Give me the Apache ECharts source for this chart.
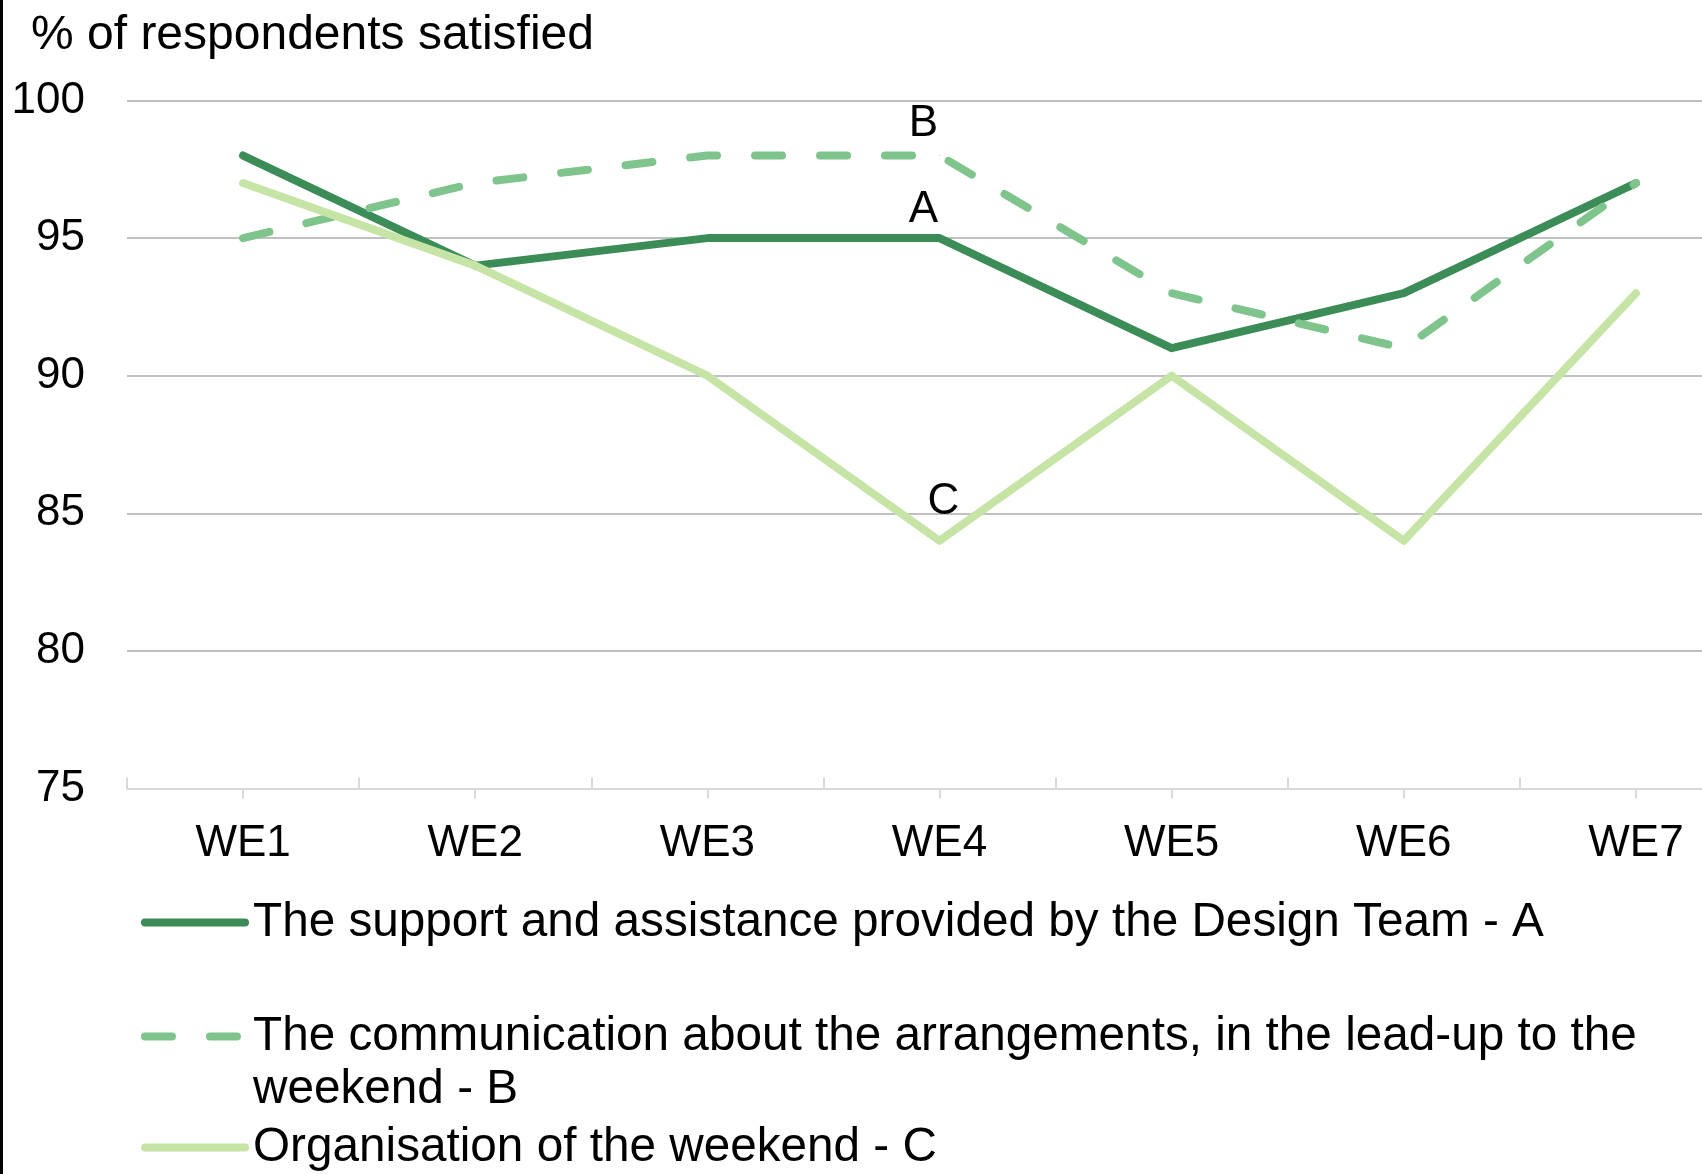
<!DOCTYPE html>
<html>
<head>
<meta charset="utf-8">
<script src="https://cdn.jsdelivr.net/npm/echarts@6/dist/echarts.min.js"></script>
<style>
  html, body { margin: 0; padding: 0; background: #ffffff; }
  #chart { width: 1702px; height: 1174px; }
</style>
</head>
<body>
<div id="chart"></div>
<script>
// Weekend satisfaction survey results
const weekends = ['WE1', 'WE2', 'WE3', 'WE4', 'WE5', 'WE6', 'WE7'];
const supportA = [98, 94, 95, 95, 91, 93, 97];
const communicationB = [95, 97, 98, 98, 93, 91, 97];
const organisationC = [97, 94, 90, 84, 90, 84, 93];

const seriesNames = [
  'The support and assistance provided by the Design Team - A',
  'The communication about the arrangements, in the lead-up to the\nweekend - B',
  'Organisation of the weekend - C'
];
const seriesTags = ['A', 'B', 'C'];
const taggedWeekend = 'WE4';

const yTicks = { min: 75, max: 100, step: 5 };
const yTitle = '% of respondents satisfied';

const FONT = '"Liberation Sans", Arial, sans-serif';
const colors = ['#3b8c57', '#7fc48c', '#c6e4a6'];
const dashB = [27, 38];

// Tag placement near the tagged point of each line
const tagStyle = [
  { distance: 6, offset: [-16, 0] },
  { distance: 9, offset: [-16, 0] },
  { distance: 16, offset: [4, 0] }
];

function withTag(values, idx) {
  const at = weekends.indexOf(taggedWeekend);
  return values.map((v, i) => i !== at ? v : {
    value: v,
    symbol: 'circle',
    symbolSize: 1,
    label: {
      show: true,
      position: 'top',
      formatter: seriesTags[idx],
      distance: tagStyle[idx].distance,
      offset: tagStyle[idx].offset,
      fontFamily: FONT,
      fontSize: 44,
      lineHeight: 44,
      color: '#000'
    }
  });
}

// One legend block per series so each can sit at its own row
const legendTops = [896, 957, 1121];
function legendBlock(i) {
  return {
    orient: 'vertical',
    left: 141,
    top: legendTops[i],
    itemWidth: 100,
    itemHeight: 14,
    padding: 0,
    data: [seriesNames[i]],
    formatter: name => name.indexOf('\n') >= 0 ? '\n' + name : name,
    itemStyle: { opacity: 0 },
    lineStyle: { width: 'inherit', type: 'inherit', cap: 'round' },
    textStyle: {
      fontFamily: FONT,
      fontSize: 47.7,
      lineHeight: 53,
      color: '#000',
      padding: [0, 0, 0, 3]
    }
  };
}

const chart = echarts.init(document.getElementById('chart'), null, { renderer: 'canvas' });

const lineBase = { cap: 'round', join: 'round', width: 8 };

chart.setOption({
  backgroundColor: '#ffffff',
  animation: false,
  title: {
    text: yTitle,
    left: 31,
    top: 12,
    padding: 0,
    textStyle: { fontFamily: FONT, fontSize: 48, fontWeight: 'normal', color: '#000' }
  },
  graphic: [{
    type: 'rect',
    left: 0,
    top: 0,
    shape: { width: 3, height: 1174 },
    style: { fill: '#000' }
  }],
  // The plot runs past the right edge of the canvas
  grid: { left: 127, top: 100.5, width: 1625, height: 688, outerBoundsMode: 'none', containLabel: false },
  legend: [legendBlock(0), legendBlock(1), legendBlock(2)],
  xAxis: [{
    type: 'category',
    data: weekends,
    boundaryGap: true,
    position: 'bottom',
    axisLine: { show: true, lineStyle: { color: '#d9d9d9', width: 2 } },
    axisTick: { show: true, inside: true, length: 11, lineStyle: { color: '#d9d9d9', width: 2 } },
    axisLabel: { fontFamily: FONT, fontSize: 44, lineHeight: 44, margin: 33, color: '#000' },
    splitLine: { show: false }
  }, {
    type: 'category',
    data: weekends,
    boundaryGap: true,
    position: 'bottom',
    axisLine: { show: false },
    axisTick: { show: true, alignWithLabel: true, inside: false, length: 10, lineStyle: { color: '#d9d9d9', width: 2 } },
    axisLabel: { show: false },
    splitLine: { show: false }
  }],
  yAxis: {
    type: 'value',
    min: yTicks.min,
    max: yTicks.max,
    interval: yTicks.step,
    axisLine: { show: false },
    axisTick: { show: false },
    axisLabel: { fontFamily: FONT, fontSize: 44, margin: 42, color: '#000' },
    splitLine: { show: true, showMinLine: false, lineStyle: { color: '#c0c0c0', width: 2 } }
  },
  series: [{
    name: seriesNames[0],
    type: 'line',
    data: withTag(supportA, 0),
    symbol: 'none',
    color: colors[0],
    itemStyle: { color: colors[0] },
    lineStyle: Object.assign({ color: colors[0], type: 'solid' }, lineBase)
  }, {
    name: seriesNames[1],
    type: 'line',
    data: withTag(communicationB, 1),
    symbol: 'none',
    color: colors[1],
    itemStyle: { color: colors[1] },
    lineStyle: Object.assign({ color: colors[1], type: dashB }, lineBase)
  }, {
    name: seriesNames[2],
    type: 'line',
    data: withTag(organisationC, 2),
    symbol: 'none',
    color: colors[2],
    itemStyle: { color: colors[2] },
    lineStyle: Object.assign({ color: colors[2], type: 'solid' }, lineBase)
  }]
});
</script>
</body>
</html>
